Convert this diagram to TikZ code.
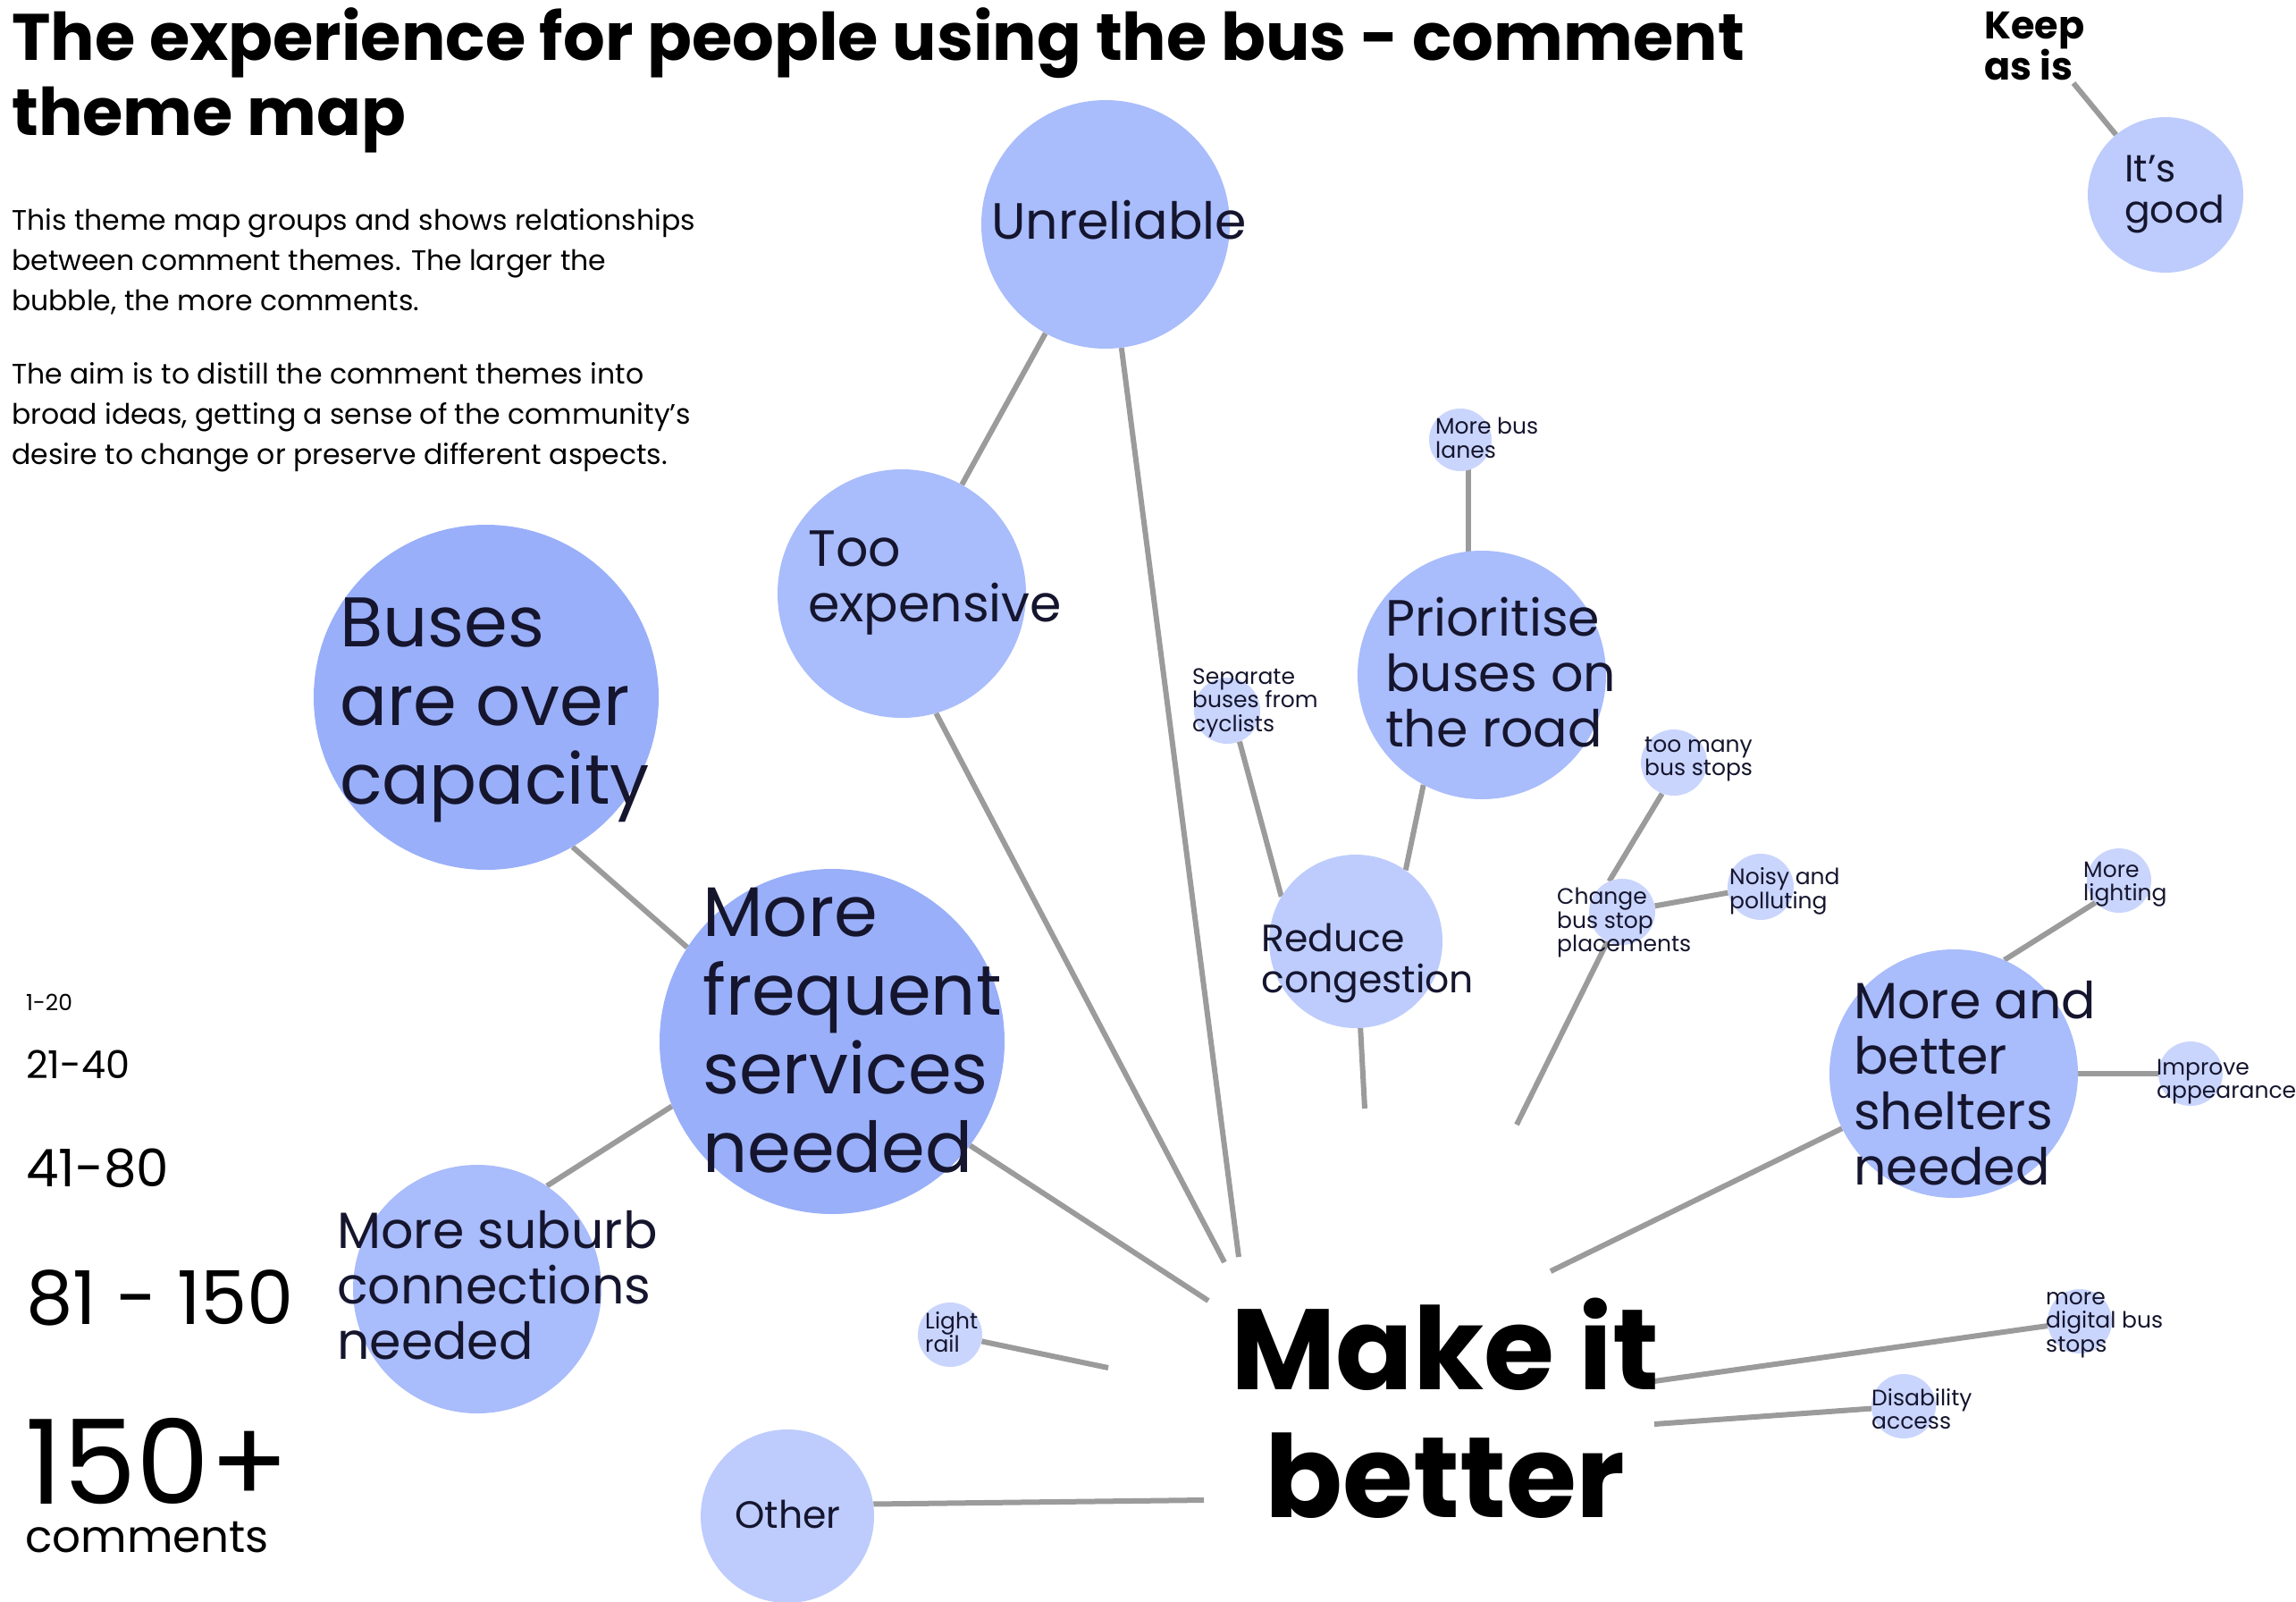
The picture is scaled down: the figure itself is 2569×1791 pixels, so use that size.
\documentclass[tikz,border=0pt]{standalone}
\usepackage{fontspec}
\setmainfont{Poppins}
\usetikzlibrary{positioning,backgrounds}

\definecolor{bubxl}{HTML}{99AFF9}
\definecolor{bubl}{HTML}{A9BCFB}
\definecolor{bubm}{HTML}{BDCCFC}
\definecolor{bubs}{HTML}{C9D5FC}
\definecolor{linkgray}{HTML}{9B9B9B}
\definecolor{inknavy}{HTML}{15152E}

\newcommand{\themexl}{\fontsize{78.5}{88}\selectfont}
\newcommand{\themel}{\fontsize{57}{62}\selectfont}
\newcommand{\themem}{\fontsize{42.5}{46}\selectfont}
\newcommand{\themes}{\fontsize{25}{26.5}\selectfont}

\begin{document}
\begin{tikzpicture}[x=1pt, y=-1pt,
  bub/.style={circle, inner sep=0pt, minimum size=#1},
  lbl/.style={inner sep=0pt, align=left, anchor=west, text=inknavy},
  link/.style={draw=linkgray, line width=6pt}]
\useasboundingbox (0,0) rectangle (2569,1791);

% headings
\node[anchor=north west, inner sep=0pt, align=left, font=\bfseries\fontsize{73.5}{84}\selectfont] (title) at (13,8) {The experience for people using the bus - comment\\theme map};
\node[anchor=west, inner sep=0pt, align=left, font=\fontsize{31.5}{45}\selectfont] (intro) at (13,293) {This theme map groups and shows relationships\\between comment themes. The larger the\\bubble, the more comments.};
\node[anchor=west, inner sep=0pt, align=left, font=\fontsize{31.5}{45}\selectfont] (aim) at (13,467) {The aim is to distill the comment themes into\\broad ideas, getting a sense of the community's\\desire to change or preserve different aspects.};

% legend
\node[anchor=west, inner sep=0pt, font=\fontsize{25}{30}\selectfont] (leg1) at (29,1121) {1-20};
\node[anchor=west, inner sep=0pt, font=\fontsize{43}{50}\selectfont] (leg2) at (29,1191) {21-40};
\node[anchor=west, inner sep=0pt, font=\fontsize{58}{66}\selectfont] (leg3) at (29,1307) {41-80};
\node[anchor=west, inner sep=0pt, font=\fontsize{83}{90}\selectfont] (leg4) at (29,1452) {81 - 150};
\node[anchor=north west, inner sep=0pt, align=left, font=\fontsize{50}{54}\selectfont] (leg5) at (28,1586) {{\fontsize{131}{131}\selectfont 150+}\\comments};

% bubbles
\node[bub=278pt, fill=bubl] (unrel) at (1237,251) {};
\node[bub=278pt, fill=bubl] (expens) at (1009,664) {};
\node[bub=386pt, fill=bubxl] (capac) at (544,780) {};
\node[bub=386pt, fill=bubxl] (freq) at (931,1165) {};
\node[bub=278pt, fill=bubl] (suburb) at (534,1442) {};
\node[bub=194pt, fill=bubm] (other) at (881,1696) {};
\node[bub=72pt, fill=bubs] (light) at (1063,1493) {};
\node[bub=278pt, fill=bubl] (prio) at (1658,755) {};
\node[bub=70pt, fill=bubs] (lanes) at (1634,492) {};
\node[bub=74pt, fill=bubs] (separ) at (1373,795) {};
\node[bub=194pt, fill=bubm] (reduce) at (1517,1053) {};
\node[bub=74pt, fill=bubs] (toomany) at (1873,853) {};
\node[bub=74pt, fill=bubs] (change) at (1815,1020) {};
\node[bub=74pt, fill=bubs] (noisy) at (1970,992) {};
\node[bub=278pt, fill=bubl] (shelt) at (2186,1201) {};
\node[bub=72pt, fill=bubs] (lighting) at (2371,985) {};
\node[bub=72pt, fill=bubs] (improve) at (2451,1201) {};
\node[bub=72pt, fill=bubs] (digital) at (2327,1478) {};
\node[bub=72pt, fill=bubs] (disab) at (2130,1573) {};
\node[bub=174pt, fill=bubm] (good) at (2423,218) {};

% bubble texts
\node[lbl, font=\themel] (unrel-t) at (1109,246) {Unreliable};
\node[lbl, font=\themel] (expens-t) at (904,652) {Too\\expensive};
\node[lbl, font=\themexl] (capac-t) at (380,794) {Buses\\are over\\capacity};
\node[lbl, font=\themexl] (freq-t) at (786,1153) {More\\frequent\\services\\needed};
\node[lbl, font=\themel] (suburb-t) at (377,1438) {More suburb\\connections\\needed};
\node[lbl, font=\themem] (other-t) at (822,1694) {Other};
\node[lbl, font=\themes] (light-t) at (1035,1490) {Light\\rail};
\node[lbl, font=\themel] (prio-t) at (1550,752) {Prioritise\\buses on\\the road};
\node[lbl, font=\themes] (lanes-t) at (1606,490) {More bus\\lanes};
\node[lbl, font=\themes] (separ-t) at (1334,786) {Separate\\buses from\\cyclists};
\node[lbl, font=\themem] (reduce-t) at (1411,1077) {Reduce\\congestion};
\node[lbl, font=\themes] (toomany-t) at (1840,849) {too many\\bus stops};
\node[lbl, font=\themes] (change-t) at (1742,1032) {Change\\bus stop\\placements};
\node[lbl, font=\themes] (noisy-t) at (1935,997) {Noisy and\\polluting};
\node[lbl, font=\themel] (shelt-t) at (2074,1212) {More and\\better\\shelters\\needed};
\node[lbl, font=\themes] (lighting-t) at (2331,989) {More\\lighting};
\node[lbl, font=\themes] (improve-t) at (2413,1210) {Improve\\appearance};
\node[lbl, font=\themes] (digital-t) at (2289,1482) {more\\digital bus\\stops};
\node[lbl, font=\themes] (disab-t) at (2094,1576) {Disability\\access};
\node[lbl, font=\themem] (good-t) at (2377,217) {It’s\\good};
\node[lbl, text=black, font=\bfseries\fontsize{43}{46}\selectfont] (keep) at (2220,52) {Keep\\as is};
\node[align=center, inner sep=0pt, font=\bfseries\fontsize{128}{143}\selectfont] (make) at (1617,1575) {Make it\\better};

% free ends of the spokes
\coordinate (m1) at (1386,1406);
\coordinate (m2) at (1370,1412);
\coordinate (m3) at (1352,1455);
\coordinate (m4) at (1240,1530);
\coordinate (m5) at (1347,1678);
\coordinate (m6) at (1527,1240);
\coordinate (m7) at (1697,1258);
\coordinate (m8) at (1735,1422);
\coordinate (m9) at (1851,1545);
\coordinate (m10) at (1851,1593);
\coordinate (k1) at (2320,93);

\begin{scope}[on background layer]
\draw[link] (unrel) -- (expens);
\draw[link] (unrel) -- (m1);
\draw[link] (expens.-74) -- (m2);
\draw[link] (capac.-60) -- (freq.147);
\draw[link] (freq.-158) -- (suburb.56);
\draw[link] (freq.-37) -- (m3);
\draw[link] (light) -- (m4);
\draw[link] (other.8) -- (m5);
\draw[link] ([xshift=9pt]lanes.center) -- ([xshift=9pt]lanes.center |- prio.center);
\draw[link] (separ.-68) -- (reduce.149);
\draw[link] (prio.-118) -- (reduce.55);
\draw[link] (reduce) -- (m6);
\draw[link] (toomany.249) -- (change.113);
\draw[link] (change) -- (noisy);
\draw[link] (change) -- (m7);
\draw[link] (shelt) -- (m8);
\draw[link] (shelt.66) -- (lighting.223);
\draw[link] (shelt) -- (improve);
\draw[link] (m9) -- (digital);
\draw[link] (m10) -- (disab);
\draw[link] (k1) -- (good);
\end{scope}
\end{tikzpicture}
\end{document}
